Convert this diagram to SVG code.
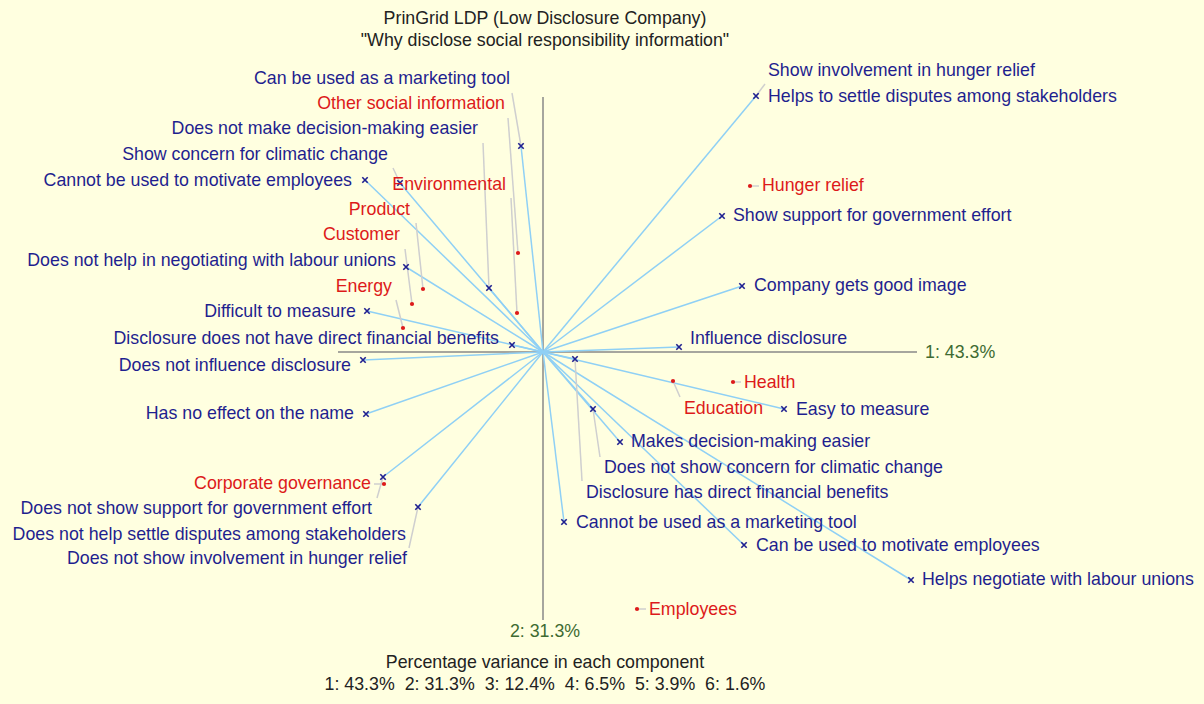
<svg xmlns="http://www.w3.org/2000/svg" width="1204" height="704" viewBox="0 0 1204 704">
<style>
text{font-family:"Liberation Sans",Arial,sans-serif;font-size:17.8px}
.c{fill:#1f1f8f}
.e{fill:#dd1a1a}
.t{fill:#222}
.g{fill:#3e6b32}
.s{text-anchor:end}
.m{text-anchor:middle}
.ray{stroke:#8fd0f5;stroke-width:1.5;fill:none}
.ld{stroke:#cfcfcf;stroke-width:1.5;fill:none}
.ax{stroke:#888;stroke-width:1.5}
.x{stroke:#1f1f8f;stroke-width:1.6}
.d{fill:#dd1a1a}
</style>
<defs>
<path id="mk" class="x" d="M-2.7,-2.7L2.7,2.7M-2.7,2.7L2.7,-2.7"/>
<circle id="dt" class="d" r="2.1"/>
</defs>
<rect x="0" y="0" width="1204" height="704" fill="#ffffe0"/>
<g id="title">
<text class="t m" x="545" y="24">PrinGrid LDP (Low Disclosure Company)</text>
<text class="t m" x="545" y="46">"Why disclose social responsibility information"</text>
</g>
<g id="axes">
<line class="ax" x1="338" y1="352" x2="917" y2="352"/>
<line class="ax" x1="543" y1="97" x2="543" y2="620"/>
<text class="g" x="925" y="358">1: 43.3%</text>
<text class="g m" x="545" y="637">2: 31.3%</text>
</g>
<g id="connectors">
<line class="ray" x1="543" y1="352" x2="521" y2="146"/>
<line class="ray" x1="543" y1="352" x2="564" y2="522"/>
<line class="ray" x1="543" y1="352" x2="489" y2="288"/>
<line class="ray" x1="543" y1="352" x2="620" y2="442"/>
<line class="ray" x1="543" y1="352" x2="400" y2="183"/>
<line class="ray" x1="543" y1="352" x2="593" y2="409"/>
<line class="ray" x1="543" y1="352" x2="365" y2="180"/>
<line class="ray" x1="543" y1="352" x2="744" y2="545"/>
<line class="ray" x1="543" y1="352" x2="406" y2="267"/>
<line class="ray" x1="543" y1="352" x2="911" y2="580"/>
<line class="ray" x1="543" y1="352" x2="367" y2="311"/>
<line class="ray" x1="543" y1="352" x2="784" y2="409"/>
<line class="ray" x1="543" y1="352" x2="512" y2="345"/>
<line class="ray" x1="543" y1="352" x2="575" y2="359"/>
<line class="ray" x1="543" y1="352" x2="363" y2="360"/>
<line class="ray" x1="543" y1="352" x2="679" y2="347"/>
<line class="ray" x1="543" y1="352" x2="366" y2="414"/>
<line class="ray" x1="543" y1="352" x2="742" y2="286"/>
<line class="ray" x1="543" y1="352" x2="383" y2="477"/>
<line class="ray" x1="543" y1="352" x2="722" y2="216"/>
<line class="ray" x1="543" y1="352" x2="418" y2="507"/>
<line class="ray" x1="543" y1="352" x2="756" y2="96"/>
<line class="ld" x1="512" y1="93" x2="521" y2="146"/>
<line class="ld" x1="508" y1="118" x2="518" y2="253"/>
<line class="ld" x1="483" y1="143" x2="489" y2="288"/>
<line class="ld" x1="393" y1="168" x2="400" y2="183"/>
<line class="ld" x1="511" y1="198" x2="517" y2="313"/>
<line class="ld" x1="416" y1="223" x2="423" y2="289"/>
<line class="ld" x1="405" y1="249" x2="412" y2="304"/>
<line class="ld" x1="396" y1="300" x2="403" y2="328"/>
<line class="ld" x1="377" y1="498" x2="383" y2="477"/>
<line class="ld" x1="409" y1="548" x2="418" y2="507"/>
<line class="ld" x1="765" y1="84" x2="756" y2="96"/>
<line class="ld" x1="673" y1="381" x2="680" y2="397"/>
<line class="ld" x1="593" y1="409" x2="600" y2="457"/>
<line class="ld" x1="575" y1="359" x2="582" y2="481"/>
<line class="ld" x1="733" y1="382" x2="741" y2="382"/>
<line class="ld" x1="637" y1="609" x2="646" y2="609"/>
<line class="ld" x1="750" y1="186" x2="759" y2="186"/>
<line class="ld" x1="384" y1="484" x2="374" y2="484"/>
</g>
<g id="n-marketing"><use href="#mk" x="521" y="146"/><text class="c s" x="510" y="84">Can be used as a marketing tool</text></g>
<g id="n-not-marketing"><use href="#mk" x="564" y="522"/><text class="c" x="576" y="528">Cannot be used as a marketing tool</text></g>
<g id="n-not-decision"><use href="#mk" x="489" y="288"/><text class="c s" x="478" y="134">Does not make decision-making easier</text></g>
<g id="n-decision"><use href="#mk" x="620" y="442"/><text class="c" x="631" y="447">Makes decision-making easier</text></g>
<g id="n-climate"><use href="#mk" x="400" y="183"/><text class="c s" x="388" y="160">Show concern for climatic change</text></g>
<g id="n-not-climate"><use href="#mk" x="593" y="409"/><text class="c" x="604" y="473">Does not show concern for climatic change</text></g>
<g id="n-not-motivate"><use href="#mk" x="365" y="180"/><text class="c s" x="352" y="186">Cannot be used to motivate employees</text></g>
<g id="n-motivate"><use href="#mk" x="744" y="545"/><text class="c" x="756" y="551">Can be used to motivate employees</text></g>
<g id="n-not-labour"><use href="#mk" x="406" y="267"/><text class="c s" x="396" y="266">Does not help in negotiating with labour unions</text></g>
<g id="n-labour"><use href="#mk" x="911" y="580"/><text class="c" x="922" y="585">Helps negotiate with labour unions</text></g>
<g id="n-difficult"><use href="#mk" x="367" y="311"/><text class="c s" x="356" y="317">Difficult to measure</text></g>
<g id="n-easy"><use href="#mk" x="784" y="409"/><text class="c" x="796" y="415">Easy to measure</text></g>
<g id="n-not-financial"><use href="#mk" x="512" y="345"/><text class="c s" x="499" y="344">Disclosure does not have direct financial benefits</text></g>
<g id="n-financial"><use href="#mk" x="575" y="359"/><text class="c" x="586" y="498">Disclosure has direct financial benefits</text></g>
<g id="n-not-influence"><use href="#mk" x="363" y="360"/><text class="c s" x="351" y="371">Does not influence disclosure</text></g>
<g id="n-influence"><use href="#mk" x="679" y="347"/><text class="c" x="690" y="344">Influence disclosure</text></g>
<g id="n-no-name"><use href="#mk" x="366" y="414"/><text class="c s" x="354" y="419">Has no effect on the name</text></g>
<g id="n-image"><use href="#mk" x="742" y="286"/><text class="c" x="754" y="291">Company gets good image</text></g>
<g id="n-not-gov"><use href="#mk" x="383" y="477"/><text class="c s" x="372" y="514">Does not show support for government effort</text></g>
<g id="n-gov"><use href="#mk" x="722" y="216"/><text class="c" x="733" y="221">Show support for government effort</text></g>
<g id="n-not-disputes"><use href="#mk" x="418" y="507"/><text class="c s" x="406" y="540">Does not help settle disputes among stakeholders</text><text class="c s" x="407" y="564">Does not show involvement in hunger relief</text></g>
<g id="n-disputes"><use href="#mk" x="756" y="96"/><text class="c" x="768" y="76">Show involvement in hunger relief</text><text class="c" x="768" y="102">Helps to settle disputes among stakeholders</text></g>
<g id="e-other"><use href="#dt" x="518" y="253"/><text class="e s" x="505" y="109">Other social information</text></g>
<g id="e-environmental"><use href="#dt" x="517" y="313"/><text class="e s" x="506" y="190">Environmental</text></g>
<g id="e-product"><use href="#dt" x="423" y="289"/><text class="e s" x="410" y="215">Product</text></g>
<g id="e-customer"><use href="#dt" x="412" y="304"/><text class="e s" x="400" y="240">Customer</text></g>
<g id="e-energy"><use href="#dt" x="403" y="328"/><text class="e s" x="392" y="292">Energy</text></g>
<g id="e-corpgov"><use href="#dt" x="384" y="484"/><text class="e s" x="371" y="489">Corporate governance</text></g>
<g id="e-hunger"><use href="#dt" x="750" y="186"/><text class="e" x="762" y="191">Hunger relief</text></g>
<g id="e-health"><use href="#dt" x="733" y="382"/><text class="e" x="744" y="388">Health</text></g>
<g id="e-education"><use href="#dt" x="673" y="381"/><text class="e" x="684" y="414">Education</text></g>
<g id="e-employees"><use href="#dt" x="637" y="609"/><text class="e" x="649" y="615">Employees</text></g>
<g id="footer">
<text class="t m" x="545" y="668">Percentage variance in each component</text>
<text class="t m" x="545" y="690" style="white-space:pre">1: 43.3%  2: 31.3%  3: 12.4%  4: 6.5%  5: 3.9%  6: 1.6%</text>
</g>
</svg>
